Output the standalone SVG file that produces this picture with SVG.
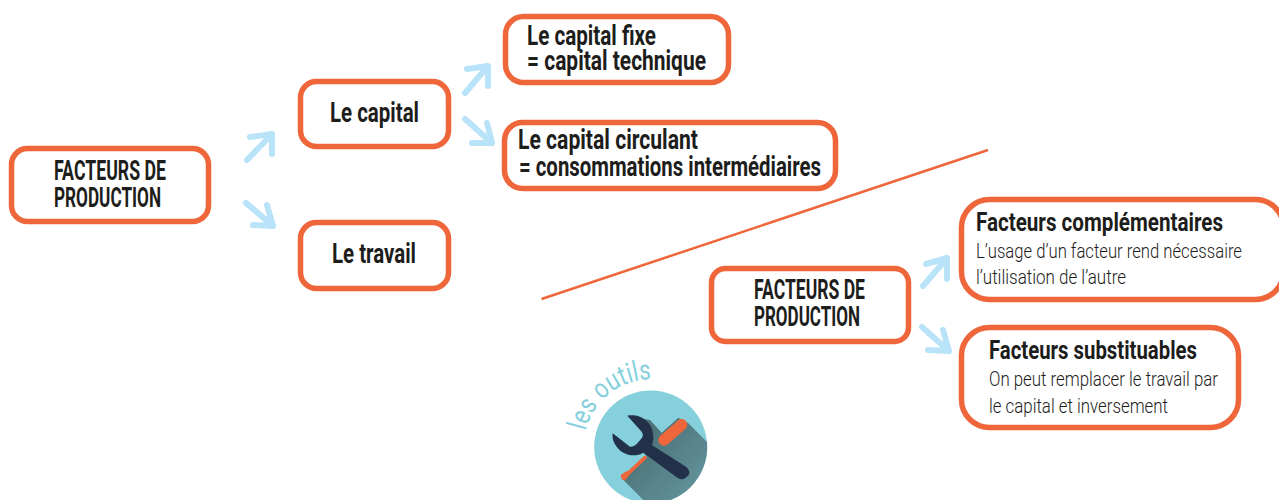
<svg xmlns="http://www.w3.org/2000/svg" width="1279" height="500" viewBox="0 0 1279 500">
<style>
.box{fill:#fff;stroke:#ee6639;stroke-width:5.5}
.arrow{fill:none;stroke:#b9e3f9;stroke-width:6;stroke-linecap:round;stroke-linejoin:round}
text{font-family:Roboto,"Liberation Sans",sans-serif;fill:#1d1d1b}
.b{font-weight:700;font-size:27px}
.c{font-weight:700;font-size:28px}
.l{font-weight:300;font-size:21px}
.h{font-weight:700;font-size:26px}
</style>
<defs>
<clipPath id="disc"><circle cx="650.7" cy="447" r="56.5"/></clipPath>
<linearGradient id="shade" x1="0" y1="0" x2="1" y2="1"><stop offset="0.2" stop-color="#4d7379"/><stop offset="1" stop-color="#6fa7b1"/></linearGradient>
<path id="arc" d="M585.7 430.8A67 67 0 0 1 690 392"/>
</defs>
<g id="connectors">
<path class="arrow" d="M247 160L272 134M250 137L272 134L272 154"/>
<path class="arrow" d="M246 203L273 226M267 205L273 226L253 225"/>
<path class="arrow" d="M465 93L488 66M467 69L488 66L488 86"/>
<path class="arrow" d="M465 119L492 143M487 123L492 143L472 143"/>
<path class="arrow" d="M923 286L947 258M926 264L947 258L947 279"/>
<path class="arrow" d="M922 327L949 351M943 330L949 351L928 350"/>
<path d="M541.5 299L988 150" fill="none" stroke="#ee6639" stroke-width="2.5"/>
</g>
<g id="n-facteurs-1"><rect class="box" x="11.5" y="148.5" width="197" height="73" rx="16"/>
<text class="c" x="54" y="180" textLength="112" lengthAdjust="spacingAndGlyphs">FACTEURS DE</text>
<text class="c" x="54" y="207" textLength="107" lengthAdjust="spacingAndGlyphs">PRODUCTION</text></g>
<g id="n-capital"><rect class="box" x="300.5" y="81.5" width="148" height="65" rx="16"/>
<text class="b" x="330" y="122" textLength="89" lengthAdjust="spacingAndGlyphs">Le capital</text></g>
<g id="n-travail"><rect class="box" x="300.5" y="222.5" width="148" height="66" rx="16"/>
<text class="b" x="332" y="263" textLength="84" lengthAdjust="spacingAndGlyphs">Le travail</text></g>
<g id="n-fixe"><rect class="box" x="505.5" y="16.5" width="223" height="66" rx="18"/>
<text class="b" x="527" y="45" textLength="129" lengthAdjust="spacingAndGlyphs">Le capital fixe</text>
<text class="b" x="527" y="70" textLength="179" lengthAdjust="spacingAndGlyphs">= capital technique</text></g>
<g id="n-circulant"><rect class="box" x="504.5" y="122.5" width="331" height="66" rx="18"/>
<text class="b" x="518" y="149" textLength="180" lengthAdjust="spacingAndGlyphs">Le capital circulant</text>
<text class="b" x="519" y="176" textLength="302" lengthAdjust="spacingAndGlyphs">= consommations intermédiaires</text></g>
<g id="n-facteurs-2"><rect class="box" x="711.5" y="268.5" width="197" height="73" rx="14"/>
<text class="c" x="754" y="299" textLength="111" lengthAdjust="spacingAndGlyphs">FACTEURS DE</text>
<text class="c" x="754" y="326" textLength="106" lengthAdjust="spacingAndGlyphs">PRODUCTION</text></g>
<g id="n-complementaires"><rect class="box" x="961.5" y="199.5" width="322" height="100" rx="28"/>
<text class="h" x="976" y="231" textLength="247" lengthAdjust="spacingAndGlyphs">Facteurs complémentaires</text>
<text class="l" x="976" y="258" textLength="266" lengthAdjust="spacingAndGlyphs">L’usage d’un facteur rend nécessaire</text>
<text class="l" x="976" y="284" textLength="150" lengthAdjust="spacingAndGlyphs">l’utilisation de l’autre</text></g>
<g id="n-substituables"><rect class="box" x="961.5" y="327.5" width="277" height="100" rx="28"/>
<text class="h" x="989" y="359" textLength="208" lengthAdjust="spacingAndGlyphs">Facteurs substituables</text>
<text class="l" x="989" y="386" textLength="229" lengthAdjust="spacingAndGlyphs">On peut remplacer le travail par</text>
<text class="l" x="989" y="413" textLength="179" lengthAdjust="spacingAndGlyphs">le capital et inversement</text></g>
<g id="outils">
<circle cx="650.7" cy="447" r="56.5" fill="#86cfdc"/>
<g clip-path="url(#disc)"><g transform="translate(540 350) scale(.33333)">
<path d="M300 205L330 210L365 248L415 203L445 220L560 335L470 540L370 510L245 385L320 320L305 300L335 260Z" fill="url(#shade)"/>
</g></g>
<g transform="translate(540 350) scale(.33333)">
<path d="M262 197C300 190 340 215 340 260C340 272 338 280 335 285L438 350C452 362 450 375 440 380C428 392 418 388 410 382L310 308C290 320 265 318 245 305C225 290 215 270 218 250L270 290Q280 292 290 282L305 265Q312 255 305 245Z" fill="#23304a"/>
<path d="M372 270L425 224" fill="none" stroke="#ee6639" stroke-width="34" stroke-linecap="round"/>
<path d="M258 376L315 323" fill="none" stroke="#ee6639" stroke-width="11" stroke-linecap="round"/>
<path d="M242 375L262 362L268 376L254 392L245 388Z" fill="#ee6639"/>
</g>
<text font-size="28" font-weight="400" style="fill:#86cfdc"><textPath href="#arc" textLength="90" lengthAdjust="spacingAndGlyphs">les outils</textPath></text>
</g>
</svg>
